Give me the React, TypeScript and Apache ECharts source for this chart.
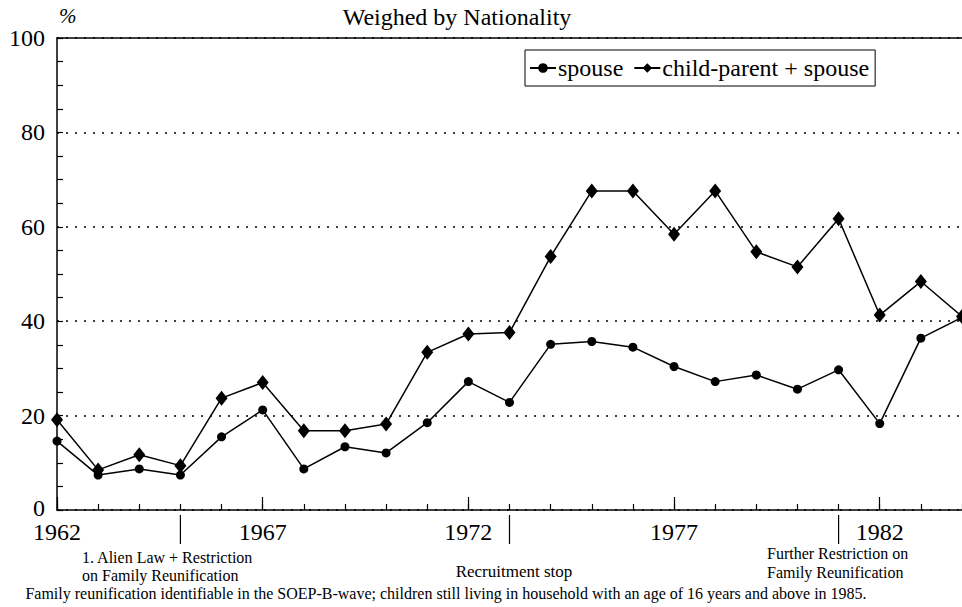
import React, { useEffect, useRef } from "react";
import * as echarts from "echarts";

const years = [
  "1962", "1963", "1964", "1965", "1966", "1967", "1968", "1969", "1970", "1971", "1972", "1973",
  "1974", "1975", "1976", "1977", "1978", "1979", "1980", "1981", "1982", "1983", "1984",
];
const spouse = [
  14.6, 7.4, 8.7, 7.4, 15.5, 21.2, 8.7, 13.4, 12.1, 18.5, 27.2, 22.8,
  35.1, 35.7, 34.5, 30.4, 27.2, 28.6, 25.6, 29.7, 18.3, 36.4, 40.8,
];
const childParentSpouse = [
  19.1, 8.5, 11.7, 9.4, 23.7, 27.0, 16.8, 16.8, 18.2, 33.4, 37.3, 37.6,
  53.7, 67.6, 67.6, 58.4, 67.6, 54.7, 51.5, 61.7, 41.3, 48.4, 41.0,
];
const seriesNames = ["spouse", "child-parent + spouse"];
const eventYears = ["1965", "1973", "1981"];
const title = "Weighed by Nationality";
const footnote =
  "Family reunification identifiable in the SOEP-B-wave; children still living in household with an age of 16 years and above in 1985.";

const FONT = "Liberation Serif";

export default function App() {
  const ref = useRef<HTMLDivElement>(null);
  useEffect(() => {
    if (!ref.current) return;
    const chart = echarts.init(ref.current, null, { renderer: "svg" });
    const lineStyle = { color: "#000", width: 1.5 };
    chart.setOption({
      animation: false,
      backgroundColor: "#fff",
      textStyle: { fontFamily: FONT },
      grid: { left: 57, right: 0, top: 38, bottom: 97, containLabel: false },
      legend: {
        left: 525,
        top: 50,
        data: seriesNames,
        borderColor: "#000",
        borderWidth: 1,
        padding: [5, 6, 5, 4],
        itemGap: 10,
        itemWidth: 26,
        itemHeight: 12,
        textStyle: { fontFamily: FONT, fontSize: 24, color: "#000", padding: [0, 0, 0, -3], lineHeight: 26 },
      },
      xAxis: [
        {
          type: "category",
          data: years,
          boundaryGap: false,
          position: "bottom",
          axisLine: { show: true, lineStyle: { color: "#000", width: 1.5 } },
          axisTick: { show: true, inside: true, length: 6, interval: 0, lineStyle: { color: "#000", width: 1.2 } },
          axisLabel: {
            interval: (i: number) => i % 5 === 0,
            fontFamily: FONT,
            fontSize: 24,
            lineHeight: 18,
            color: "#000",
            margin: 13,
          },
          splitLine: { show: false },
        },
        {
          type: "category",
          data: years,
          boundaryGap: false,
          position: "bottom",
          axisLine: { show: false },
          axisTick: {
            show: true,
            inside: true,
            length: 13,
            interval: (i: number) => i % 5 === 0,
            lineStyle: { color: "#000", width: 1.2 },
          },
          axisLabel: { show: false },
          splitLine: { show: false },
        },
        {
          type: "category",
          data: years,
          boundaryGap: false,
          position: "top",
          axisLine: { show: true, lineStyle: { color: "#000", width: 1.5 } },
          axisTick: { show: false },
          axisLabel: { show: false },
          splitLine: { show: false },
        },
      ],
      yAxis: {
        type: "value",
        min: 0,
        max: 100,
        interval: 20,
        axisLine: { show: true, lineStyle: { color: "#000", width: 1.5 } },
        axisTick: { show: true, inside: true, length: 6, lineStyle: { color: "#000", width: 1.2 } },
        minorTick: { show: true, splitNumber: 4, length: 6, lineStyle: { color: "#000", width: 1.2 } },
        axisLabel: {
          fontFamily: FONT,
          fontSize: 24,
          lineHeight: 17,
          color: "#000",
          margin: 12,
          formatter: (v: number) => (v === 0 ? "{z|0}" : String(v)),
          rich: { z: { fontFamily: FONT, fontSize: 24, lineHeight: 17, color: "#000", padding: [0, 0, 5, 0] } },
        },
        splitLine: { show: true, lineStyle: { color: "#000", width: 1.5, type: [2, 7] } },
      },
      series: [
        {
          name: seriesNames[0],
          type: "line",
          data: spouse,
          xAxisIndex: 0,
          symbol: "circle",
          symbolSize: 9,
          lineStyle,
          itemStyle: { color: "#000" },
        },
        {
          name: seriesNames[1],
          type: "line",
          data: childParentSpouse,
          xAxisIndex: 0,
          symbol: "diamond",
          symbolSize: [12, 15],
          lineStyle,
          itemStyle: { color: "#000" },
        },
      ],
    });

    const y0 = chart.convertToPixel({ yAxisIndex: 0 }, 0) as number;
    const eventLines = eventYears.map((yr) => {
      const x = chart.convertToPixel({ xAxisIndex: 0 }, years.indexOf(yr)) as number;
      return {
        type: "line",
        shape: { x1: x, y1: y0 + 5, x2: x, y2: y0 + 34 },
        style: { stroke: "#000", lineWidth: 1.2 },
      };
    });
    const txt = (text: string, x: number, y: number, size: number, align = "left", extra: any = {}) => ({
      type: "text",
      x,
      y,
      style: {
        text,
        fontFamily: FONT,
        fontSize: size,
        fill: "#000",
        align,
        verticalAlign: "middle",
        ...extra,
      },
    });
    chart.setOption({
      graphic: [
        ...eventLines,
        txt(title, 457, 17, 24, "center"),
        txt("%", 59, 16, 21, "left", { fontStyle: "italic" }),
        txt("1. Alien Law + Restriction", 82, 557, 16),
        txt("on Family Reunification", 82, 575, 16),
        txt("Recruitment stop", 514, 571, 17, "center"),
        txt("Further Restriction on", 767, 553, 16),
        txt("Family Reunification", 767, 572, 16),
        txt(footnote, 446, 593, 16, "center"),
      ],
    });

    return () => chart.dispose();
  }, []);
  return (
    <div
      ref={ref}
      style={{ position: "absolute", left: 0, top: 0, width: 962, height: 607 }}
    />
  );
}
